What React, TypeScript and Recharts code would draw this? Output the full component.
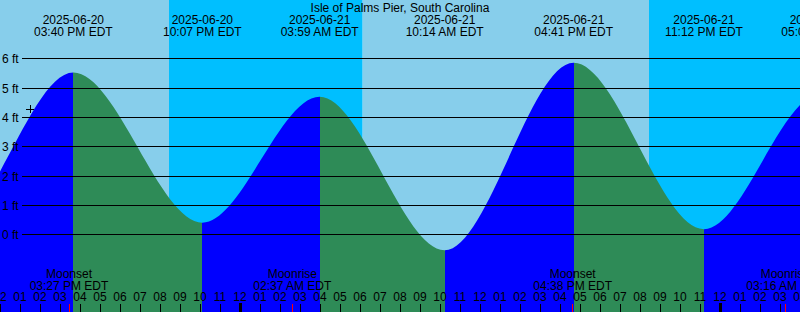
import { ComposedChart, Area, XAxis, YAxis, ReferenceArea, ReferenceLine, ReferenceDot } from "recharts"

// hours after 12:00 PM 2025-06-20 (EDT)
const tideHours = [-8.9, -2.53, 3.667, 10.117, 15.983, 22.233, 28.683, 35.2, 41.017, 47.3]
const tideFeet = [4.8, 0.23, 5.54, 0.42, 4.71, -0.52, 5.87, 0.2, 4.8, -0.4]
const tideDates = ["", "", "2025-06-20", "2025-06-20", "2025-06-21", "2025-06-21", "2025-06-21", "2025-06-21", "2025-06-22", ""]
const tideTimes = ["", "", "03:40 PM EDT", "10:07 PM EDT", "03:59 AM EDT", "10:14 AM EDT", "04:41 PM EDT", "11:12 PM EDT", "05:01 AM EDT", ""]

const moonHours = [3.45, 14.617, 28.633, 39.267]
const moonEvents = ["Moonset", "Moonrise", "Moonset", "Moonrise"]
const moonTimes = ["03:27 PM EDT", "02:37 AM EDT", "04:38 PM EDT", "03:16 AM EDT"]

const skyStart = [0, 8.45, 18.133, 32.45]
const skyEnd = [8.45, 18.133, 32.45, 40]
const skyNight = [false, true, false, true]

const hourLabels = [
  "12", "01", "02", "03", "04", "05", "06", "07", "08", "09", "10", "11",
  "12", "01", "02", "03", "04", "05", "06", "07", "08", "09", "10", "11",
  "12", "01", "02", "03", "04", "05", "06", "07", "08", "09", "10", "11",
  "12", "01", "02", "03", "04",
]
const midnightHours = [12, 36]

const feetTicks = [0, 1, 2, 3, 4, 5, 6]

const nowHour = 1.5
const nowFeet = 4.29

const title = "Isle of Palms Pier, South Carolina"

const FONT = "'Liberation Sans', Arial, sans-serif"
const DAY = "#87ceeb"
const NIGHT = "#00bfff"
const RISING = "#0000ff"
const FALLING = "#2e8b57"

const data = tideHours.map((t, i) => ({ t, ft: tideFeet[i] }))

// hard colour stops: blue while the tide rises, green while it falls
const tMin = tideHours[0]
const tMax = tideHours[tideHours.length - 1]
const stops: { offset: number; color: string }[] = []
for (let i = 0; i < tideHours.length - 1; i++) {
  const color = tideFeet[i + 1] > tideFeet[i] ? RISING : FALLING
  stops.push({ offset: (tideHours[i] - tMin) / (tMax - tMin), color })
  stops.push({ offset: (tideHours[i + 1] - tMin) / (tMax - tMin), color })
}

const txt = { fontFamily: FONT, fontSize: 12, fill: "#000" }

export default function App() {
  return (
    <div style={{ position: "absolute", left: 0, top: 0 }}>
      <ComposedChart width={800} height={312} data={data} margin={{ top: 0, right: 0, bottom: 0, left: 0 }}>
        <defs>
          <linearGradient id="tideFill" x1="0" y1="0" x2="1" y2="0">
            {stops.map((s, i) => (
              <stop key={i} offset={s.offset} stopColor={s.color} />
            ))}
          </linearGradient>
        </defs>
        <XAxis type="number" dataKey="t" domain={[0, 40]} allowDataOverflow hide />
        <YAxis type="number" domain={[-2.625, 8.011]} allowDataOverflow hide />

        {skyStart.map((s, i) => (
          <ReferenceArea key={"sky" + i} x1={s} x2={skyEnd[i]} fill={skyNight[i] ? NIGHT : DAY} fillOpacity={1} stroke="none" />
        ))}

        <Area
          type="monotoneX"
          dataKey="ft"
          baseValue="dataMin"
          stroke="none"
          fill="url(#tideFill)"
          fillOpacity={1}
          isAnimationActive={false}
          activeDot={false}
        />

        {feetTicks.map((f) => (
          <ReferenceLine
            key={"ft" + f}
            y={f}
            shape={(p: any) => {
              const y = p.y1
              return (
                <g>
                  <line x1={Math.min(p.x1, p.x2) + 22} x2={Math.max(p.x1, p.x2)} y1={y} y2={y} stroke="#000" shapeRendering="crispEdges" />
                  <text x={Math.min(p.x1, p.x2) + 2} y={y + 4.5} {...txt}>{`${f} ft`}</text>
                </g>
              )
            }}
          />
        ))}

        {hourLabels.map((lab, h) => (
          <ReferenceLine
            key={"h" + h}
            x={h}
            ifOverflow="visible"
            shape={(p: any) => {
              const bottom = Math.max(p.y1, p.y2)
              const thick = midnightHours.includes(h)
              return (
                <g>
                  <line x1={p.x1} x2={p.x1} y1={bottom - (thick ? 9 : 8)} y2={bottom} stroke="#000" strokeWidth={thick ? 3 : 1} shapeRendering="crispEdges" />
                  <text x={p.x1} y={bottom - 11} textAnchor="middle" {...txt}>{lab}</text>
                </g>
              )
            }}
          />
        ))}

        {moonHours.map((m, i) => (
          <ReferenceLine
            key={"moon" + i}
            x={m}
            ifOverflow="visible"
            shape={(p: any) => {
              const bottom = Math.max(p.y1, p.y2)
              return (
                <g>
                  <line x1={p.x1} x2={p.x1} y1={bottom - 8} y2={bottom} stroke="#ff0000" shapeRendering="crispEdges" />
                  <text x={p.x1} y={bottom - 34} textAnchor="middle" {...txt}>{moonEvents[i]}</text>
                  <text x={p.x1} y={bottom - 22} textAnchor="middle" {...txt}>{moonTimes[i]}</text>
                </g>
              )
            }}
          />
        ))}

        {tideHours.map((t, i) =>
          tideDates[i] ? (
            <ReferenceLine
              key={"tide" + i}
              x={t}
              ifOverflow="visible"
              shape={(p: any) => {
                const top = Math.min(p.y1, p.y2)
                return (
                  <g>
                    <text x={p.x1} y={top + 24} textAnchor="middle" {...txt}>{tideDates[i]}</text>
                    <text x={p.x1} y={top + 36} textAnchor="middle" {...txt}>{tideTimes[i]}</text>
                  </g>
                )
              }}
            />
          ) : null
        )}

        <ReferenceLine
          x={20}
          shape={(p: any) => (
            <text x={p.x1} y={Math.min(p.y1, p.y2) + 12} textAnchor="middle" {...txt}>{title}</text>
          )}
        />

        <ReferenceDot
          x={nowHour}
          y={nowFeet}
          r={0}
          shape={(p: any) => (
            <g stroke="#000" shapeRendering="crispEdges">
              <line x1={p.cx - 4} x2={p.cx + 4} y1={p.cy} y2={p.cy} />
              <line x1={p.cx} x2={p.cx} y1={p.cy - 4} y2={p.cy + 4} />
            </g>
          )}
        />
      </ComposedChart>
    </div>
  )
}
